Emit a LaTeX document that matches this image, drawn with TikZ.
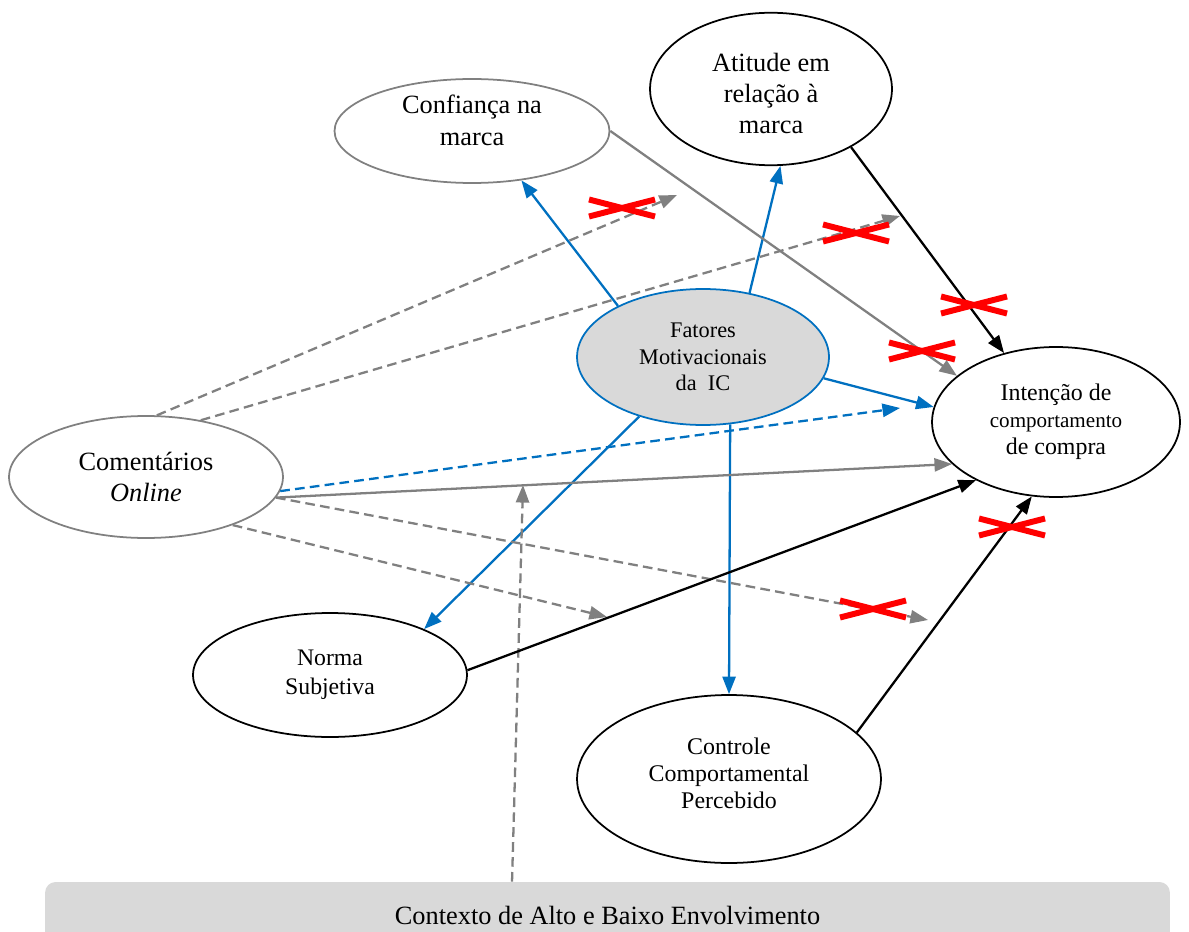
\documentclass[tikz,border=0pt]{standalone}
\usepackage{fontspec}
\setmainfont{Liberation Serif}
\usetikzlibrary{shapes.geometric,arrows.meta}
\definecolor{myblue}{HTML}{0070C0}
\definecolor{mygray}{HTML}{808080}
\definecolor{boxgray}{HTML}{D9D9D9}
\definecolor{myred}{HTML}{FF0000}
\begin{document}
\begin{tikzpicture}[x=0.02cm,y=-0.02cm,
  ell/.style={ellipse,draw,line width=1pt,inner sep=0pt,align=center},
  arr/.style={line width=1.3pt,-{Triangle[length=10pt,width=7.5pt]}},
  bluearr/.style={arr,color=myblue},
  grayarr/.style={arr,color=mygray},
  blackarr/.style={arr,color=black},
  dsh/.style={dash pattern=on 5.5pt off 3pt},
  redx/.style={line width=3.4pt,color=myred}
]
\useasboundingbox (0,0) rectangle (1189,932);

% nodes
\node[ell,draw=mygray,minimum width=5.5cm,minimum height=2.08cm,font=\fontsize{15}{18.5}\selectfont] (conf) at (472,131) {Confiança na\\marca\rule[-12pt]{0pt}{0pt}};
\node[ell,minimum width=4.84cm,minimum height=3.05cm,font=\fontsize{15}{17.5}\selectfont] (ati) at (771,89) {\rule{0pt}{15.5pt}Atitude em\\relação à\\marca};
\node[ell,draw=myblue,fill=boxgray,minimum width=5.04cm,minimum height=2.72cm,font=\fontsize{12.7}{15}\selectfont] (fat) at (703,357) {Fatores\\Motivacionais\\da\ \ IC};
\node[ell,minimum width=4.96cm,minimum height=3.0cm,font=\fontsize{13.6}{15.5}\selectfont] (int) at (1056,422) {Intenção de\\{\fontsize{12}{15.5}\selectfont comportamento}\\de compra};
\node[ell,draw=mygray,minimum width=5.48cm,minimum height=2.44cm,font=\fontsize{15}{18}\selectfont] (com) at (146,477) {Comentários\\\textit{Online}};
\node[ell,minimum width=5.48cm,minimum height=2.48cm,font=\fontsize{13.5}{16.4}\selectfont] (norma) at (330,675) {Norma\\Subjetiva};
\node[ell,minimum width=6.08cm,minimum height=3.36cm,font=\fontsize{13.6}{15.6}\selectfont] (ctrl) at (729,779) {Controle\\Comportamental\\Percebido\rule[-6.5pt]{0pt}{0pt}};

\begin{scope}
\clip (0,0) rectangle (1189,932);
\node[rectangle,rounded corners=6pt,fill=boxgray,minimum width=22.5cm,minimum height=1.32cm,font=\fontsize{15}{18}\selectfont] (ctx) at (607.5,915) {Contexto de Alto e Baixo Envolvimento};
\end{scope}

% free ends
\coordinate (t1) at (677,195);
\coordinate (t2) at (900,216);
\coordinate (t3) at (900,408);
\coordinate (t4) at (928,620);
\coordinate (t5) at (607,617);
\coordinate (t6) at (523,485);

% blue arrows from Fatores
\draw[bluearr] (fat.149) -- (conf.-45);
\draw[bluearr] (fat.54) -- (ati.-83);
\draw[bluearr] (fat.-10) -- (int.173);
\draw[bluearr] (fat.223) -- (norma.26);
\draw[bluearr] (fat.-68.5) -- (ctrl.90);
\draw[bluearr,dsh] (com.-6.2) -- (t3);

% gray arrows
\draw[grayarr] (conf.east) -- (int.155.7);
\draw[grayarr] (com.-9.5) -- (int.202);
\draw[grayarr,dsh] (com.80.7) -- (t1);
\draw[grayarr,dsh] (com.46) -- (t2);
\draw[grayarr,dsh] (com.-9) -- (t4);
\draw[grayarr,dsh] (com.-29) -- (t5);
\draw[grayarr,dsh] ([xshift=-1.91cm]ctx.north) -- (t6);

% black arrows
\draw[blackarr] (ati.-36) -- (int.127);
\draw[blackarr] (norma.2) -- (int.216);
\draw[blackarr] (ctrl.20.5) -- (int.252.7);

% red crosses
\foreach \cx/\cy in {622/208,856/233,974/305,922/351,873/609,1012/527}{
  \draw[redx] (\cx-33,\cy-8.5) -- (\cx+33,\cy+8.5);
  \draw[redx] (\cx-33,\cy+8.5) -- (\cx+33,\cy-8.5);
}
\end{tikzpicture}
\end{document}
